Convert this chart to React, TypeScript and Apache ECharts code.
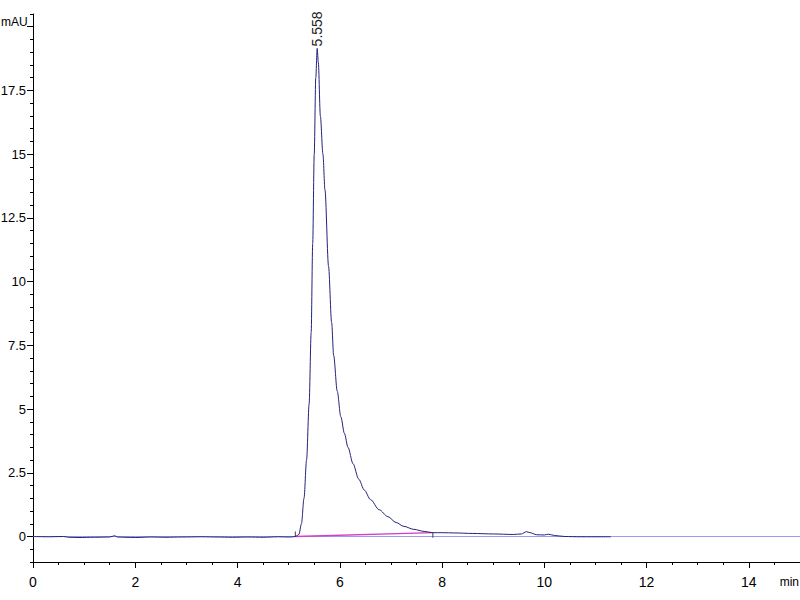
import React, { useEffect, useRef } from "react";
import * as echarts from "echarts";

// Chromatogram trace (time in min, absorbance in mAU)
const traceTime = [
  0, 0.3, 0.6, 0.7, 0.9, 1.2, 1.5, 1.6, 1.65, 1.8, 2.0, 2.3, 2.6, 2.9, 3.3, 3.6, 3.9, 4.2, 4.5, 4.8, 5.0, 5.1,
  5.15, 5.2, 5.25, 5.3, 5.35, 5.4, 5.44, 5.47, 5.5, 5.53, 5.558, 5.58, 5.62, 5.67, 5.71, 5.78, 5.84, 5.88, 5.95, 6.02,
  6.09, 6.16, 6.26, 6.37, 6.48, 6.6, 6.77, 6.94, 7.1, 7.25, 7.45, 7.65, 7.82, 8.0, 8.25, 8.6, 9.0, 9.4, 9.55, 9.65,
  9.72, 9.85, 10.0, 10.08, 10.2, 10.4, 10.7, 11.3,
];
const traceValue = [
  0, -0.01, 0.0, -0.03, -0.04, -0.03, -0.02, 0.03, -0.02, -0.03, -0.04, -0.02, -0.03, -0.02, -0.01, -0.02, -0.03, -0.02, -0.03, -0.01, -0.02, -0.01,
  0.02, 0.08, 0.5, 1.5, 3.0, 5.2, 8.0, 11.5, 15.0, 18.0, 19.15, 18.6, 16.5, 15.0, 13.6, 10.6, 8.4, 7.1, 5.7, 4.7,
  4.05, 3.5, 2.85, 2.25, 1.82, 1.45, 1.05, 0.78, 0.55, 0.4, 0.28, 0.2, 0.15, 0.15, 0.14, 0.12, 0.1, 0.08, 0.1, 0.19,
  0.15, 0.07, 0.06, 0.09, 0.04, 0.0, -0.01, -0.01,
];
const peakTime = 5.558;
const peakValue = 19.15;
const peakLabel = "5.558";

// Integration baseline (start / end)
const baseTime = [5.13, 7.82];
const baseValue = [0.0, 0.15];

// Zero reference line
const zeroTime = [0, 15];
const zeroValue = [0, 0];

// Axis ticks & labels
const xLabels = [0, 2, 4, 6, 8, 10, 12, 14];
const xMinor: number[] = [];
for (let i = 0; i <= 30; i++) xMinor.push(i * 0.5);
const yLabels = [0, 2.5, 5, 7.5, 10, 12.5, 15, 17.5];
const yMajor = [0, 2.5, 5, 7.5, 10, 12.5, 15, 17.5, 20];
const yMinor: number[] = [];
for (let i = -2; i <= 41; i++) yMinor.push(i * 0.5);

const FONT = "'Liberation Sans', Arial, sans-serif";

export default function App() {
  const ref = useRef<HTMLDivElement>(null);
  useEffect(() => {
    if (!ref.current) return;
    const chart = echarts.init(ref.current, undefined, { renderer: "svg" });
    const axisCommonX = {
      type: "value",
      min: 0,
      max: 15,
      gridIndex: 0,
      position: "bottom",
      splitLine: { show: false },
    };
    const axisCommonY = {
      type: "value",
      min: -1,
      max: 20.5,
      gridIndex: 0,
      position: "left",
      splitLine: { show: false },
    };
    chart.setOption({
      animation: false,
      backgroundColor: "#ffffff",
      grid: { left: 33, right: 0, top: 14, bottom: 38, containLabel: false, outerBoundsMode: "none" },
      xAxis: [
        {
          ...axisCommonX,
          axisLine: { show: true, onZero: false, lineStyle: { color: "#000", width: 1 } },
          axisTick: { show: true, customValues: xLabels, length: 6, lineStyle: { color: "#000" } },
          axisLabel: {
            show: true,
            customValues: xLabels,
            margin: 13,
            fontFamily: FONT,
            fontSize: 14,
            color: "#000",
          },
        },
        {
          ...axisCommonX,
          axisLine: { show: false, onZero: false },
          axisTick: { show: true, customValues: xMinor, length: 3, lineStyle: { color: "#000" } },
          axisLabel: { show: false },
        },
      ],
      yAxis: [
        {
          ...axisCommonY,
          axisLine: { show: true, onZero: false, lineStyle: { color: "#000", width: 1 } },
          axisTick: { show: true, customValues: yMajor, length: 6, lineStyle: { color: "#000" } },
          axisLabel: {
            show: true,
            customValues: yLabels,
            margin: 7,
            fontFamily: FONT,
            fontSize: 13,
            color: "#000",
          },
        },
        {
          ...axisCommonY,
          axisLine: { show: false, onZero: false },
          axisTick: { show: true, customValues: yMinor, length: 3, lineStyle: { color: "#000" } },
          axisLabel: { show: false },
        },
      ],
      graphic: [
        {
          type: "text",
          left: 1,
          top: 16,
          style: { text: "mAU", fontFamily: FONT, fontSize: 12, fill: "#000" },
        },
        {
          type: "text",
          right: 1,
          top: 576,
          style: { text: "min", fontFamily: FONT, fontSize: 12, fill: "#000" },
        },
      ],
      series: [
        {
          type: "line",
          xAxisIndex: 0,
          yAxisIndex: 0,
          data: zeroTime.map((t, i) => [t, zeroValue[i]]),
          symbol: "none",
          lineStyle: { color: "#9b9bef", width: 1.2 },
          silent: true,
          z: 1,
        },
        {
          type: "line",
          xAxisIndex: 0,
          yAxisIndex: 0,
          data: baseTime.map((t, i) => [t, baseValue[i]]),
          symbol: "none",
          lineStyle: { color: "#d040c8", width: 1.3 },
          silent: true,
          z: 2,
        },
        {
          type: "line",
          xAxisIndex: 0,
          yAxisIndex: 0,
          data: [[baseTime[0], baseValue[0] + 0.2], [baseTime[0], baseValue[0]]],
          symbol: "none",
          lineStyle: { color: "#444", width: 1 },
          silent: true,
          z: 3,
        },
        {
          type: "line",
          xAxisIndex: 0,
          yAxisIndex: 0,
          data: [[baseTime[1], baseValue[1]], [baseTime[1], baseValue[1] - 0.2]],
          symbol: "none",
          lineStyle: { color: "#444", width: 1 },
          silent: true,
          z: 3,
        },
        {
          type: "line",
          xAxisIndex: 0,
          yAxisIndex: 0,
          data: traceTime.map((t, i) => [t, traceValue[i]]),
          symbol: "none",
          showSymbol: false,
          smooth: 0.3,
          smoothMonotone: "x",
          lineStyle: { color: "#23237a", width: 1 },
          z: 4,
          markPoint: {
            silent: true,
            symbol: "circle",
            symbolSize: 0,
            data: [
              {
                coord: [peakTime, peakValue],
                label: {
                  show: true,
                  formatter: peakLabel,
                  position: "top",
                  rotate: 90,
                  align: "left",
                  verticalAlign: "middle",
                  distance: 2,
                  fontFamily: FONT,
                  fontSize: 14,
                  color: "#222",
                },
              },
            ],
          },
        },
      ],
    });
    return () => chart.dispose();
  }, []);
  return (
    <div
      ref={ref}
      style={{ position: "absolute", left: 0, top: 0, width: 800, height: 600, background: "#fff" }}
    />
  );
}
